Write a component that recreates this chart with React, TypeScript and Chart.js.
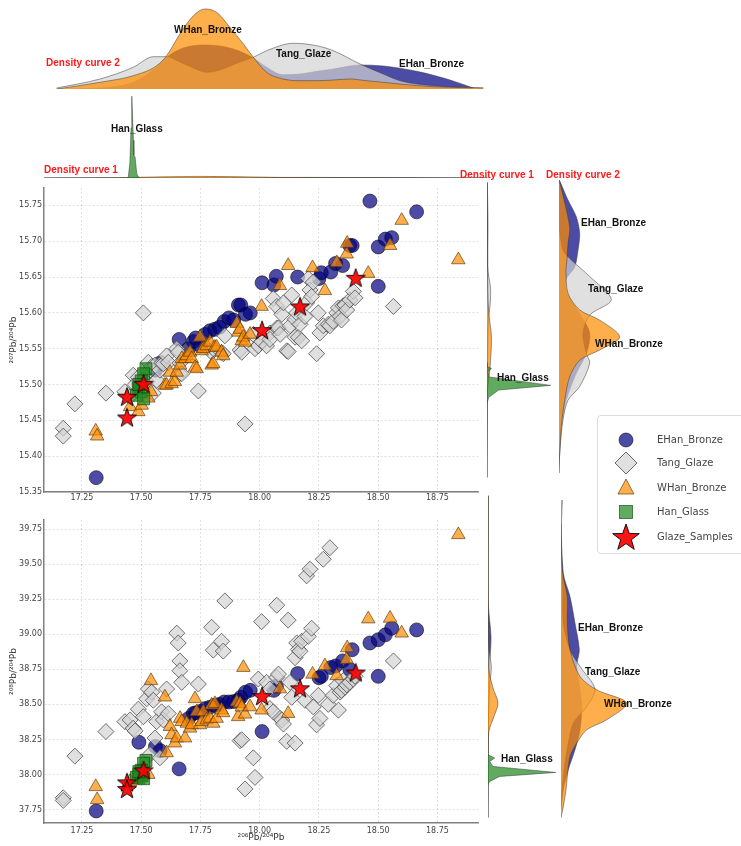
import React, { useEffect, useRef } from 'react';
import { Chart, registerables } from 'chart.js';
Chart.register(...registerables);

// ---------------- scatter data ----------------
const ehanX = [17.31, 17.49, 17.56, 17.58, 17.66, 17.70, 17.72, 17.73, 17.75, 17.77, 17.79, 17.81, 17.83, 17.85, 17.87, 17.89, 17.91, 17.92, 17.94, 17.96, 18.01, 18.06, 18.07, 18.16, 18.25, 18.26, 18.30, 18.32, 18.35, 18.38, 18.39, 18.465, 18.50, 18.50, 18.53, 18.557, 18.662];
const ehanPb207 = [15.37, 15.50, 15.52, 15.53, 15.563, 15.55, 15.56, 15.565, 15.554, 15.57, 15.575, 15.577, 15.58, 15.588, 15.593, 15.59, 15.611, 15.611, 15.598, 15.60, 15.642, 15.639, 15.651, 15.65, 15.648, 15.656, 15.657, 15.669, 15.666, 15.694, 15.694, 15.756, 15.692, 15.637, 15.703, 15.705, 15.741];
const ehanPb208 = [37.74, 38.23, 38.20, 38.17, 38.04, 38.40, 38.435, 38.44, 38.45, 38.47, 38.48, 38.494, 38.50, 38.517, 38.517, 38.52, 38.53, 38.55, 38.587, 38.60, 38.306, 38.60, 38.63, 38.72, 38.69, 38.70, 38.763, 38.774, 38.81, 38.75, 38.89, 38.938, 38.961, 38.70, 38.996, 39.043, 39.031];

const tangX = [17.171, 17.171, 17.22, 17.351, 17.431, 17.453, 17.466, 17.474, 17.488, 17.509, 17.523, 17.53, 17.537, 17.544, 17.551, 17.558, 17.565, 17.579, 17.586, 17.593, 17.607, 17.614, 17.65, 17.656, 17.663, 17.663, 17.671, 17.741, 17.797, 17.804, 17.839, 17.846, 17.853, 17.917, 17.924, 17.938, 17.973, 17.98, 17.994, 18.008, 18.029, 18.043, 18.043, 18.057, 18.072, 18.072, 18.079, 18.086, 18.093, 18.10, 18.114, 18.12, 18.128, 18.135, 18.149, 18.149, 18.156, 18.163, 18.17, 18.177, 18.191, 18.198, 18.205, 18.212, 18.219, 18.226, 18.24, 18.247, 18.254, 18.268, 18.289, 18.296, 18.31, 18.325, 18.332, 18.339, 18.345, 18.352, 18.36, 18.367, 18.38, 18.395, 18.402, 18.564];
const tangPb207 = [15.439, 15.428, 15.473, 15.488, 15.49, 15.483, 15.513, 15.50, 15.51, 15.60, 15.504, 15.531, 15.52, 15.525, 15.488, 15.527, 15.506, 15.52, 15.53, 15.529, 15.54, 15.531, 15.55, 15.545, 15.515, 15.53, 15.515, 15.491, 15.545, 15.55, 15.545, 15.543, 15.568, 15.548, 15.545, 15.445, 15.57, 15.55, 15.554, 15.56, 15.554, 15.572, 15.563, 15.62, 15.609, 15.579, 15.579, 15.57, 15.598, 15.614, 15.547, 15.546, 15.582, 15.625, 15.591, 15.566, 15.60, 15.566, 15.584, 15.561, 15.595, 15.614, 15.648, 15.632, 15.623, 15.643, 15.543, 15.60, 15.572, 15.582, 15.584, 15.582, 15.588, 15.60, 15.607, 15.595, 15.59, 15.61, 15.611, 15.604, 15.618, 15.63, 15.621, 15.609];
const tangPb208 = [37.834, 37.815, 38.131, 38.306, 38.377, 38.389, 38.33, 38.311, 38.466, 38.412, 38.54, 38.61, 38.143, 38.587, 38.529, 38.26, 38.377, 38.119, 38.447, 38.389, 38.61, 38.435, 39.008, 38.938, 38.81, 38.74, 38.657, 38.645, 39.05, 38.887, 38.95, 38.88, 39.238, 38.241, 38.248, 37.897, 38.119, 37.979, 38.681, 39.09, 38.657, 38.61, 38.47, 38.447, 39.207, 38.692, 38.716, 38.40, 38.389, 38.36, 38.236, 39.101, 38.657, 38.55, 38.833, 38.224, 38.938, 38.891, 38.879, 38.95, 38.529, 39.417, 38.985, 39.464, 39.043, 38.482, 38.354, 38.564, 38.40, 39.535, 38.50, 39.617, 38.564, 38.634, 38.459, 38.587, 38.60, 38.669, 38.622, 38.64, 38.657, 38.68, 38.70, 38.81];

const whanX = [17.308, 17.314, 17.453, 17.488, 17.502, 17.53, 17.541, 17.60, 17.607, 17.621, 17.628, 17.642, 17.65, 17.664, 17.671, 17.685, 17.692, 17.706, 17.713, 17.727, 17.734, 17.748, 17.755, 17.762, 17.776, 17.79, 17.797, 17.804, 17.811, 17.818, 17.839, 17.846, 17.903, 17.909, 17.917, 17.924, 17.931, 17.938, 17.959, 18.008, 18.085, 18.12, 18.223, 18.275, 18.325, 18.367, 18.369, 18.458, 18.55, 18.599, 18.838];
const whanPb207 = [15.435, 15.428, 15.469, 15.462, 15.471, 15.481, 15.49, 15.499, 15.499, 15.517, 15.501, 15.504, 15.517, 15.527, 15.536, 15.536, 15.54, 15.545, 15.536, 15.524, 15.522, 15.566, 15.547, 15.55, 15.554, 15.559, 15.527, 15.529, 15.552, 15.552, 15.545, 15.54, 15.585, 15.573, 15.577, 15.561, 15.566, 15.559, 15.57, 15.609, 15.638, 15.666, 15.663, 15.631, 15.67, 15.682, 15.697, 15.655, 15.694, 15.729, 15.674];
const whanPb208 = [37.913, 37.82, 37.95, 37.96, 37.98, 38.0, 38.669, 38.552, 38.154, 38.342, 38.283, 38.224, 38.26, 38.40, 38.377, 38.26, 38.365, 38.33, 38.354, 38.54, 38.447, 38.354, 38.377, 38.447, 38.389, 38.40, 38.494, 38.365, 38.505, 38.40, 38.459, 38.44, 38.517, 38.412, 38.505, 38.48, 38.763, 38.43, 38.482, 38.459, 38.61, 38.435, 38.715, 38.774, 38.704, 38.82, 38.903, 39.109, 39.114, 39.008, 39.71];

const glassX = [17.52, 17.51, 17.50, 17.49, 17.50, 17.48, 17.51, 17.49];
const glassPb207 = [15.522, 15.515, 15.505, 15.495, 15.49, 15.485, 15.48, 15.50];
const glassPb208 = [38.10, 38.08, 38.03, 38.0, 37.99, 37.98, 37.97, 38.02];

const sampleX = [17.44, 17.44, 17.51, 18.01, 18.17, 18.405];
const samplePb207 = [15.483, 15.454, 15.501, 15.576, 15.609, 15.649];
const samplePb208 = [37.944, 37.897, 38.03, 38.559, 38.615, 38.727];

// ---------------- ticks ----------------
const xTicks = [17.25, 17.5, 17.75, 18.0, 18.25, 18.5, 18.75];
const yTicks207 = [15.35, 15.4, 15.45, 15.5, 15.55, 15.6, 15.65, 15.7, 15.75];
const yTicks208 = [37.75, 38.0, 38.25, 38.5, 38.75, 39.0, 39.25, 39.5, 39.75];

// ---------------- density curves (arbitrary units) ----------------
// top, density curve 2 (x = 206Pb/204Pb)
const topD2WhanX = [17.143, 17.326, 17.466, 17.565, 17.607, 17.663, 17.72, 17.769, 17.818, 17.874, 17.931, 17.973, 18.029, 18.099, 18.17, 18.24, 18.31, 18.38, 18.45, 18.59, 18.73, 18.943];
const topD2WhanH = [0, 6.7, 13.3, 23.3, 33.3, 55, 73.3, 80, 76.7, 61.7, 45, 31.7, 16.7, 10, 8.3, 8.3, 9, 10, 8.3, 5, 2.3, 1];
const topD2TangX = [17.143, 17.326, 17.466, 17.551, 17.607, 17.663, 17.72, 17.776, 17.832, 17.917, 17.973, 18.029, 18.142, 18.24, 18.31, 18.423, 18.521, 18.592, 18.732, 18.943];
const topD2TangH = [1, 10, 21.7, 32.3, 32.3, 27, 21, 16.7, 19, 27, 31.7, 38.3, 45.7, 43.3, 38.3, 25, 15, 8.3, 3.3, 1];
const topD2EhanX = [17.143, 17.326, 17.466, 17.565, 17.607, 17.677, 17.776, 17.888, 17.973, 18.029, 18.099, 18.17, 18.24, 18.31, 18.423, 18.521, 18.662, 18.803, 18.901];
const topD2EhanH = [0, 1, 6.7, 21.7, 31.7, 41, 44, 40, 31, 21.7, 14.3, 15, 17.7, 20, 24, 23, 17.7, 9, 1];

// top, density curve 1
const topD1GlassX = [17.44, 17.445, 17.452, 17.457, 17.46, 17.467, 17.469, 17.474, 17.481, 17.488, 17.495];
const topD1GlassH = [0, 0.5, 15, 50, 81.7, 37.7, 22.7, 21, 4.3, 1, 0];
const topD1WhanX = [17.09, 17.4, 17.6, 17.75, 17.9, 18.1, 18.5, 18.96];
const topD1WhanH = [0, 0.3, 1.2, 1.6, 1.3, 0.5, 0.3, 0];
const topD1TangX = [17.09, 17.5, 17.8, 18.2, 18.5, 18.96];
const topD1TangH = [0, 0.3, 0.4, 0.6, 0.3, 0];
const topD1EhanX = [17.09, 17.6, 17.8, 18.3, 18.6, 18.96];
const topD1EhanH = [0, 0.2, 0.6, 0.4, 0.3, 0];

// right of upper panel (y = 207Pb/204Pb), density curve 1
const r1GlassY = [15.528, 15.522, 15.5197, 15.515, 15.508, 15.4964, 15.49, 15.48, 15.4717];
const r1GlassH = [0, 0, 4.5, 1, 2, 63.7, 11.7, 1.7, 0];
const r1WhanY = [15.775, 15.65, 15.6, 15.563, 15.52, 15.49, 15.45, 15.37];
const r1WhanH = [0.3, 0.5, 1.5, 4.4, 3, 0.5, 0.2, 0];
const r1TangY = [15.775, 15.66, 15.63, 15.61, 15.58, 15.5, 15.37];
const r1TangH = [0, 0.5, 3.5, 3.3, 1, 0.3, 0];
const r1EhanY = [15.775, 15.72, 15.68, 15.6, 15.55, 15.45, 15.37];
const r1EhanH = [0.3, 1, 0.8, 1, 0.8, 0.2, 0];

// right of upper panel, density curve 2
const r2EhanY = [15.778, 15.751, 15.728, 15.705, 15.682, 15.659, 15.641, 15.623, 15.595, 15.568, 15.54, 15.513, 15.476, 15.44, 15.394];
const r2EhanH = [0.5, 9, 17.3, 20.7, 19, 15.7, 6.7, 8, 20.7, 30.7, 27.3, 17.3, 7.3, 2.3, 0];
const r2WhanY = [15.778, 15.714, 15.691, 15.669, 15.655, 15.623, 15.6, 15.586, 15.563, 15.545, 15.531, 15.508, 15.476, 15.44, 15.403, 15.376];
const r2WhanH = [0.3, 10.7, 9, 8, 7, 9, 20.7, 40.7, 60.7, 40.7, 20.7, 10.7, 5.7, 2.3, 0.7, 0];
const r2TangY = [15.714, 15.682, 15.669, 15.646, 15.614, 15.593, 15.568, 15.54, 15.527, 15.495, 15.476, 15.449, 15.403, 15.376];
const r2TangH = [0, 4, 12, 30.7, 52.3, 30.7, 24, 27.3, 30.7, 20.7, 9, 4, 0.7, 0];

// right of lower panel (y = 208Pb/204Pb), density curve 1
const b1GlassY = [38.131, 38.108, 38.084, 38.049, 38.007, 37.979, 37.944, 37.921];
const b1GlassH = [0, 6.7, 1.7, 5, 67.7, 11.7, 1.7, 0];
const b1WhanY = [39.95, 38.75, 38.6, 38.494, 38.4, 38.3, 38.2, 37.69];
const b1WhanH = [0.3, 0.5, 5, 10, 6, 1, 0.3, 0];
const b1TangY = [39.95, 38.9, 38.75, 38.6, 38.4, 38.2, 37.69];
const b1TangH = [0, 0.5, 3.3, 1.5, 0.5, 0.2, 0];
const b1EhanY = [39.95, 39.2, 38.96, 38.8, 38.6, 38.3, 38.0, 37.69];
const b1EhanH = [0.3, 0.3, 3, 2, 1, 0.5, 0.2, 0];

// right of lower panel, density curve 2
const b2WhanY = [39.92, 39.757, 39.64, 39.406, 39.242, 39.055, 38.868, 38.681, 38.587, 38.494, 38.377, 38.306, 38.213, 38.119, 37.979, 37.885, 37.768, 37.687];
const b2WhanH = [1.3, 0.5, 0.3, 1.7, 6.3, 6.3, 9, 19, 35.7, 65.7, 45.7, 25.7, 15.7, 9, 6.3, 5, 2.3, 0];
const b2EhanY = [39.757, 39.406, 39.242, 39.055, 38.868, 38.751, 38.587, 38.47, 38.306, 38.166, 38.026, 37.885, 37.745];
const b2EhanH = [0, 2.3, 9, 14, 18.3, 15.7, 19, 20.7, 19, 14, 7.3, 2.3, 0];
const b2TangY = [39.64, 39.289, 39.055, 38.868, 38.751, 38.592, 38.47, 38.353, 38.213, 38.073, 37.932, 37.768];
const b2TangH = [0, 1.7, 2.3, 9, 19, 34, 25.7, 12.3, 7.3, 4, 1.7, 0];

// ---------------- styles ----------------
const C_EHAN = 'rgba(0,0,128,0.7)';
const C_TANG = 'rgba(211,211,211,0.7)';
const C_WHAN = 'rgba(255,140,0,0.7)';
const C_GLASS = 'rgba(34,139,34,0.72)';
const C_STAR = 'rgba(255,0,0,0.92)';
const OUTLINE = 'rgba(60,60,60,0.75)';

const X_MIN = 17.0897;
const X_MAX = 18.921;

function makeStar(R: number, ratio: number, fill: string, stroke: string, lw: number) {
  const size = Math.ceil(2 * R + 2 * lw + 2);
  const c = document.createElement('canvas');
  c.width = size;
  c.height = size;
  const ctx = c.getContext('2d')!;
  const cx = size / 2;
  const cy = size / 2 + R * 0.08;
  ctx.beginPath();
  for (let i = 0; i < 10; i++) {
    const a = -Math.PI / 2 + (i * Math.PI) / 5;
    const r = i % 2 === 0 ? R : R * ratio;
    const px = cx + r * Math.cos(a);
    const py = cy + r * Math.sin(a);
    if (i === 0) ctx.moveTo(px, py);
    else ctx.lineTo(px, py);
  }
  ctx.closePath();
  ctx.fillStyle = fill;
  ctx.fill();
  ctx.lineWidth = lw;
  ctx.strokeStyle = stroke;
  ctx.stroke();
  return c;
}

const pts = (xs: number[], ys: number[]) => xs.map((x, i) => ({ x, y: ys[i] }));

function makeScatter(which: '207' | '208') {
  const is207 = which === '207';
  const star = makeStar(10, 0.4, C_STAR, '#000', 0.9);
  const groups: any[] = [
    { label: 'EHan_Bronze', data: pts(ehanX, is207 ? ehanPb207 : ehanPb208), pointStyle: 'circle', pointRadius: 7, pointBackgroundColor: C_EHAN, pointBorderColor: 'rgba(0,0,0,0.7)', pointBorderWidth: 0.8, order: 4 },
    { label: 'Tang_Glaze', data: pts(tangX, is207 ? tangPb207 : tangPb208), pointStyle: 'rectRot', pointRadius: 8, pointBackgroundColor: C_TANG, pointBorderColor: 'rgba(70,70,70,0.75)', pointBorderWidth: 1, order: 3 },
    { label: 'WHan_Bronze', data: pts(whanX, is207 ? whanPb207 : whanPb208), pointStyle: 'triangle', pointRadius: 7.8, pointBackgroundColor: C_WHAN, pointBorderColor: 'rgba(80,50,10,0.8)', pointBorderWidth: 0.8, order: 2 },
    { label: 'Han_Glass', data: pts(glassX, is207 ? glassPb207 : glassPb208), pointStyle: 'rect', pointRadius: 8.5, pointBackgroundColor: C_GLASS, pointBorderColor: 'rgba(0,60,0,0.75)', pointBorderWidth: 0.8, order: 1 },
    { label: 'Glaze_Samples', data: pts(sampleX, is207 ? samplePb207 : samplePb208), pointStyle: star, pointRadius: 9, order: 0 },
  ];
  const tickFont = { family: 'DejaVu Sans', size: 8 };
  const grid = { color: 'rgba(0,0,0,0.15)', lineWidth: 0.8, drawTicks: false };
  const border = { display: true, color: '#808080', width: 1.5, dash: [2, 2] };
  return {
    type: 'scatter',
    data: { datasets: groups.map((g) => ({ ...g, showLine: false, pointHoverRadius: g.pointRadius })) },
    options: {
      responsive: false,
      animation: false,
      events: [],
      layout: { padding: { top: 5, right: 12, left: 0, bottom: 0 } },
      plugins: { legend: { display: false }, tooltip: { enabled: false } },
      scales: {
        x: {
          type: 'linear',
          min: X_MIN,
          max: X_MAX,
          afterBuildTicks: (s: any) => { s.ticks = xTicks.map((v) => ({ value: v })); },
          ticks: { callback: (v: any) => Number(v).toFixed(2), font: tickFont, color: '#444', padding: is207 ? 1 : 3, maxRotation: 0, autoSkip: false },
          grid,
          border,
          title: is207
            ? { display: false }
            : { display: true, text: '²⁰⁶Pb/²⁰⁴Pb', font: { family: 'DejaVu Sans', size: 9 }, color: '#333', padding: { top: 0, bottom: 3 } },
          afterFit: (s: any) => { s.height = is207 ? 13 : 23; },
        },
        y: {
          type: 'linear',
          min: is207 ? 15.35 : 37.654,
          max: is207 ? 15.7743 : 39.815,
          afterBuildTicks: (s: any) => { s.ticks = (is207 ? yTicks207 : yTicks208).map((v) => ({ value: v })); },
          ticks: { callback: (v: any) => Number(v).toFixed(2), font: tickFont, color: '#444', padding: 2, autoSkip: false },
          grid,
          border,
          title: { display: true, text: is207 ? '²⁰⁷Pb/²⁰⁴Pb' : '²⁰⁸Pb/²⁰⁴Pb', font: { family: 'DejaVu Sans', size: 9 }, color: '#333', padding: { top: 8, bottom: 0 } },
          afterFit: (s: any) => { s.width = 44; },
        },
      },
    },
  };
}

type Curve = { a: number[]; h: number[]; color: string; order: number; sharp?: boolean };

function makeHDensity(curves: Curve[], xMin: number, xMax: number, hMax: number) {
  return {
    type: 'line',
    data: {
      datasets: curves.map((c) => ({
        data: c.a.map((x, i) => ({ x, y: c.h[i] })),
        fill: 'origin',
        backgroundColor: c.color,
        borderColor: OUTLINE,
        borderWidth: 0.7,
        pointRadius: 0,
        tension: c.sharp ? 0 : 0.4,
        cubicInterpolationMode: c.sharp ? 'default' : 'monotone',
        order: c.order,
      })),
    },
    options: {
      responsive: false,
      animation: false,
      events: [],
      layout: { padding: 0 },
      plugins: { legend: { display: false }, tooltip: { enabled: false } },
      scales: {
        x: { type: 'linear', min: xMin, max: xMax, display: false },
        y: { type: 'linear', min: 0, max: hMax, display: false },
      },
    },
  };
}

function makeVDensity(curves: Curve[], yMin: number, yMax: number, hMax: number) {
  return {
    type: 'line',
    data: {
      datasets: curves.map((c) => ({
        data: c.a.map((y, i) => ({ x: c.h[i], y })),
        fill: 'origin',
        backgroundColor: c.color,
        borderColor: OUTLINE,
        borderWidth: 0.7,
        pointRadius: 0,
        tension: c.sharp ? 0 : 0.3,
        order: c.order,
      })),
    },
    options: {
      indexAxis: 'y',
      responsive: false,
      animation: false,
      events: [],
      layout: { padding: 0 },
      plugins: { legend: { display: false }, tooltip: { enabled: false } },
      scales: {
        x: { type: 'linear', min: 0, max: hMax, display: false },
        y: { type: 'linear', min: yMin, max: yMax, display: false },
      },
    },
  };
}

function ChartPanel({ left, top, width, height, make }: { left: number; top: number; width: number; height: number; make: () => any }) {
  const ref = useRef<HTMLCanvasElement | null>(null);
  useEffect(() => {
    if (!ref.current) return;
    const chart = new Chart(ref.current, make());
    return () => chart.destroy();
  }, []);
  return (
    <div style={{ position: 'absolute', left, top, width, height }}>
      <canvas ref={ref} width={width} height={height} style={{ width, height, display: 'block' }} />
    </div>
  );
}

const labelStyle = (left: number, cy: number, red: boolean): React.CSSProperties => ({
  position: 'absolute',
  left,
  top: cy - 6,
  lineHeight: '12px',
  fontSize: 10,
  fontWeight: 'bold',
  fontFamily: '"Liberation Sans", Arial, sans-serif',
  color: red ? '#ff1a1a' : '#111',
  whiteSpace: 'nowrap',
});

const annotations: { t: string; l: number; cy: number; red?: boolean }[] = [
  { t: 'Density curve 2', l: 46, cy: 63, red: true },
  { t: 'WHan_Bronze', l: 174, cy: 30 },
  { t: 'Tang_Glaze', l: 276, cy: 54 },
  { t: 'EHan_Bronze', l: 399, cy: 64 },
  { t: 'Han_Glass', l: 111, cy: 129 },
  { t: 'Density curve 1', l: 44, cy: 170, red: true },
  { t: 'Density curve 1', l: 460, cy: 175, red: true },
  { t: 'Density curve 2', l: 546, cy: 175, red: true },
  { t: 'EHan_Bronze', l: 581, cy: 223 },
  { t: 'Tang_Glaze', l: 588, cy: 289 },
  { t: 'WHan_Bronze', l: 595, cy: 344 },
  { t: 'Han_Glass', l: 497, cy: 378 },
  { t: 'EHan_Bronze', l: 578, cy: 628 },
  { t: 'Tang_Glaze', l: 585, cy: 672 },
  { t: 'WHan_Bronze', l: 604, cy: 704 },
  { t: 'Han_Glass', l: 501, cy: 759 },
];

function starPath(cx: number, cy: number, R: number, ratio: number) {
  const p: string[] = [];
  for (let i = 0; i < 10; i++) {
    const a = -Math.PI / 2 + (i * Math.PI) / 5;
    const r = i % 2 === 0 ? R : R * ratio;
    p.push(`${(cx + r * Math.cos(a)).toFixed(2)},${(cy + r * Math.sin(a)).toFixed(2)}`);
  }
  return p.join(' ');
}

const legendItems = ['EHan_Bronze', 'Tang_Glaze', 'WHan_Bronze', 'Han_Glass', 'Glaze_Samples'];

function LegendMarker({ i }: { i: number }) {
  const c = 16;
  let shape: React.ReactNode = null;
  if (i === 0) shape = <circle cx={c} cy={c} r={7} fill={C_EHAN} stroke="rgba(0,0,0,0.7)" strokeWidth={0.8} />;
  if (i === 1) shape = <polygon points={`${c},${c - 11} ${c + 11},${c} ${c},${c + 11} ${c - 11},${c}`} fill={C_TANG} stroke="rgba(70,70,70,0.8)" strokeWidth={1} />;
  if (i === 2) shape = <polygon points={`${c},${c - 9} ${c + 8},${c + 6} ${c - 8},${c + 6}`} fill={C_WHAN} stroke="rgba(80,50,10,0.8)" strokeWidth={0.8} />;
  if (i === 3) shape = <rect x={c - 6.5} y={c - 6.5} width={13} height={13} fill={C_GLASS} stroke="rgba(0,60,0,0.75)" strokeWidth={0.8} />;
  if (i === 4) shape = <polygon points={starPath(c, c + 1, 14, 0.4)} fill={C_STAR} stroke="#000" strokeWidth={0.9} />;
  return <svg width={32} height={32} style={{ position: 'absolute', left: 28 - 16, top: -16 }}>{shape}</svg>;
}

function Legend() {
  const ys = [24, 47, 72, 96, 121];
  return (
    <div style={{ position: 'absolute', left: 597, top: 415, width: 170, height: 139, border: '1px solid #dcdcdc', borderRadius: 4, background: 'rgba(255,255,255,0.9)', boxSizing: 'border-box' }}>
      {legendItems.map((t, i) => (
        <div key={t} style={{ position: 'absolute', left: 0, top: ys[i], width: 170, height: 0 }}>
          <LegendMarker i={i} />
          <div style={{ position: 'absolute', left: 59, top: -7, lineHeight: '14px', fontSize: 10, fontFamily: '"DejaVu Sans", sans-serif', color: '#444', whiteSpace: 'nowrap' }}>{t}</div>
        </div>
      ))}
    </div>
  );
}

export default function App() {
  return (
    <div style={{ position: 'absolute', left: 0, top: 0, width: 741, height: 846, overflow: 'hidden', background: '#fff' }}>
      <ChartPanel left={44} top={0} width={440} height={89} make={() => makeHDensity([
        { a: topD2EhanX, h: topD2EhanH, color: C_EHAN, order: 3 },
        { a: topD2TangX, h: topD2TangH, color: C_TANG, order: 2 },
        { a: topD2WhanX, h: topD2WhanH, color: C_WHAN, order: 1 },
      ], 17.0897, 18.946, 89)} />
      <ChartPanel left={44} top={90} width={444} height={88} make={() => makeHDensity([
        { a: topD1EhanX, h: topD1EhanH, color: C_EHAN, order: 3 },
        { a: topD1TangX, h: topD1TangH, color: C_TANG, order: 2 },
        { a: topD1WhanX, h: topD1WhanH, color: C_WHAN, order: 1 },
        { a: topD1GlassX, h: topD1GlassH, color: C_GLASS, order: 0, sharp: true },
      ], 17.0897, 18.963, 88)} />
      <ChartPanel left={487} top={175} width={70} height={317} make={() => makeVDensity([
        { a: r1EhanY, h: r1EhanH, color: C_EHAN, order: 3 },
        { a: r1TangY, h: r1TangH, color: C_TANG, order: 2 },
        { a: r1WhanY, h: r1WhanH, color: C_WHAN, order: 1 },
        { a: r1GlassY, h: r1GlassH, color: C_GLASS, order: 0, sharp: true },
      ], 15.35, 15.7853, 70)} />
      <ChartPanel left={559} top={175} width={80} height={317} make={() => makeVDensity([
        { a: r2EhanY, h: r2EhanH, color: C_EHAN, order: 3 },
        { a: r2TangY, h: r2TangH, color: C_TANG, order: 2 },
        { a: r2WhanY, h: r2WhanH, color: C_WHAN, order: 1 },
      ], 15.35, 15.7853, 80)} />
      <ChartPanel left={488} top={490} width={72} height={333} make={() => makeVDensity([
        { a: b1EhanY, h: b1EhanH, color: C_EHAN, order: 3 },
        { a: b1TangY, h: b1TangH, color: C_TANG, order: 2 },
        { a: b1WhanY, h: b1WhanH, color: C_WHAN, order: 1 },
        { a: b1GlassY, h: b1GlassH, color: C_GLASS, order: 0, sharp: true },
      ], 37.652, 39.99, 72)} />
      <ChartPanel left={561} top={490} width={80} height={333} make={() => makeVDensity([
        { a: b2EhanY, h: b2EhanH, color: C_EHAN, order: 3 },
        { a: b2TangY, h: b2TangH, color: C_TANG, order: 2 },
        { a: b2WhanY, h: b2WhanH, color: C_WHAN, order: 1 },
      ], 37.652, 39.99, 80)} />
      <ChartPanel left={0} top={178} width={490} height={327} make={() => makeScatter('207')} />
      <ChartPanel left={0} top={510} width={490} height={336} make={() => makeScatter('208')} />
      {annotations.map((a, i) => (
        <div key={i} style={labelStyle(a.l, a.cy, !!a.red)}>{a.t}</div>
      ))}
      <Legend />
    </div>
  );
}
